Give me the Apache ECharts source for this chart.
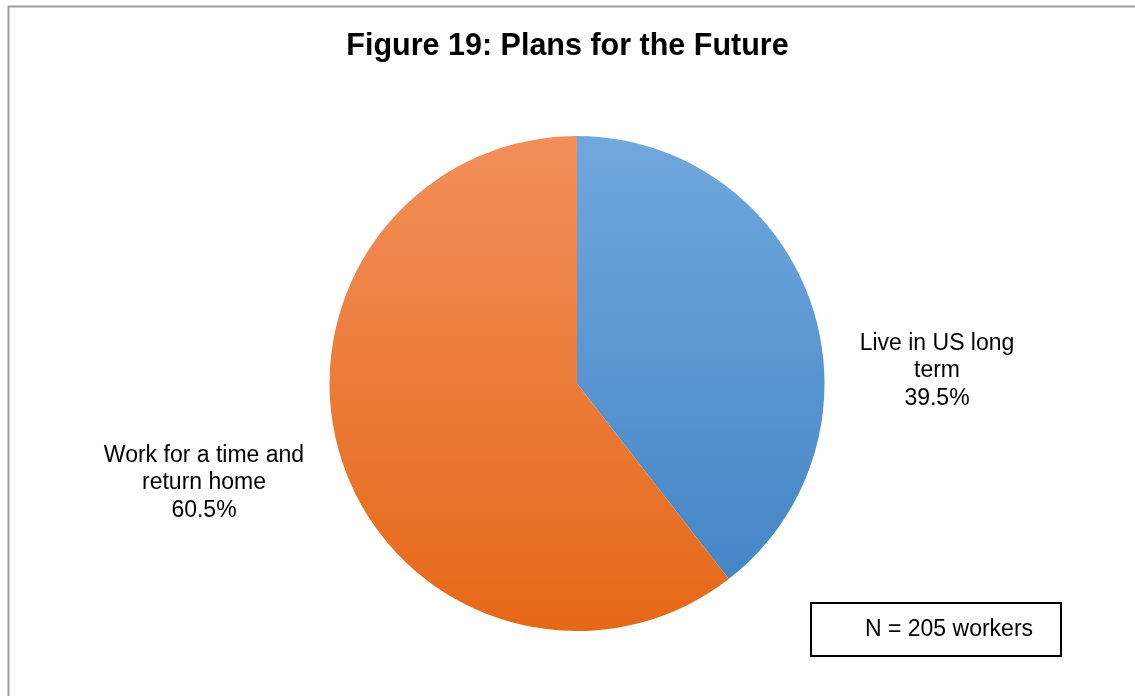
<!DOCTYPE html>
<html>
<head>
<meta charset="utf-8">
<script src="https://cdn.jsdelivr.net/npm/echarts@6/dist/echarts.min.js"></script>
<style>
html,body{margin:0;padding:0;background:#fff;}
#c{width:1135px;height:696px;}
</style>
</head>
<body>
<div id="c"></div>
<script>
var titleText = 'Figure 19: Plans for the Future';
var categories = ['Live in US long\nterm', 'Work for a time and\nreturn home'];
var values = [39.5, 60.5];
var noteText = 'N = 205 workers';

var gradients = [
  ['#70A8DD', '#4586C6'],
  ['#F28F5A', '#E56817']
];

var chart = echarts.init(document.getElementById('c'), null, {renderer: 'canvas'});
var font = 'Liberation Sans, Arial, sans-serif';

chart.setOption({
  animation: false,
  backgroundColor: '#ffffff',
  title: {
    text: titleText,
    left: 'center',
    top: 26,
    textStyle: {fontFamily: font, fontSize: 30.5, fontWeight: 'bold', color: '#000'}
  },
  graphic: [
    {type: 'rect', shape: {x: 8.5, y: 6.5, width: 1300, height: 900},
     style: {fill: 'none', stroke: '#a0a0a0', lineWidth: 2}, silent: true, z: 0},
    {type: 'rect', shape: {x: 811, y: 603, width: 250, height: 53},
     style: {fill: '#fff', stroke: '#000', lineWidth: 2}, z: 10},
    {type: 'text', x: 949, y: 629.5,
     style: {text: noteText, fontFamily: font, fontSize: 23, fill: '#000', align: 'center', verticalAlign: 'middle'}, z: 11}
  ],
  series: [{
    type: 'pie',
    center: [577, 383.5],
    radius: 247.5,
    startAngle: 90,
    clockwise: true,
    avoidLabelOverlap: false,
    itemStyle: {borderWidth: 0},
    label: {
      show: true,
      position: 'outside',
      fontFamily: font,
      fontSize: 23,
      lineHeight: 27.5,
      color: '#000',
      align: 'center',
      formatter: function (p) { return p.name + '\n' + p.value.toFixed(1) + '%'; }
    },
    labelLine: {show: false},
    labelLayout: function (params) {
      if (params.dataIndex === 0) return {x: 937, y: 371, align: 'center', verticalAlign: 'middle'};
      return {x: 204, y: 483, align: 'center', verticalAlign: 'middle'};
    },
    data: categories.map(function (c, i) {
      return {
        name: c,
        value: values[i],
        itemStyle: {
          color: new echarts.graphic.LinearGradient(0, 0, 0, 1, [
            {offset: 0, color: gradients[i][0]},
            {offset: 1, color: gradients[i][1]}
          ], false)
        }
      };
    })
  }]
});
</script>
</body>
</html>
